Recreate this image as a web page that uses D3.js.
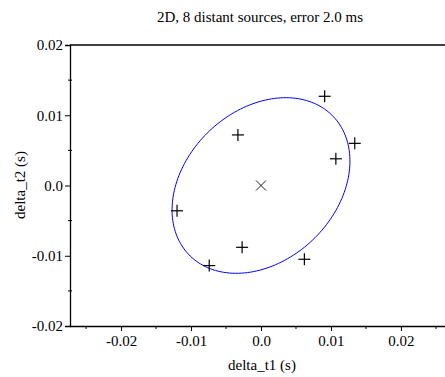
<!DOCTYPE html>
<html>
<head>
<meta charset="utf-8">
<script src="https://cdn.jsdelivr.net/npm/d3@7"></script>
<style>
  body { margin: 0; background: #fff; }
  text { font-family: "Liberation Serif", "Times New Roman", serif; fill: #000; }
</style>
</head>
<body>
<svg id="chart" width="445" height="377"></svg>
<script>
// sources (delta_t1, delta_t2 in s)
const sourceX = [0.0091, -0.0033, 0.0134, 0.0107, -0.0120, -0.0027, -0.0074, 0.0062];
const sourceY = [0.0127, 0.0072, 0.0060, 0.0038, -0.0036, -0.0088, -0.0114, -0.0105];
const centre = [0, 0];
// error ellipse as a 2x2 matrix [xx, yy, xy]
const ellipseXX = 1.616e-4, ellipseYY = 1.5625e-4, ellipseXY = 4.42e-5;

const xMajor = [-0.02, -0.01, 0, 0.01, 0.02];
const xMinor = [-0.025, -0.015, -0.005, 0.005, 0.015, 0.025];
const yMajor = [-0.02, -0.01, 0, 0.01, 0.02];
const yMinor = [-0.015, -0.005, 0.005, 0.015];
const fmt = d => d === 0 ? "0.0" : d.toFixed(2);

const x = d3.scaleLinear().domain([-0.0273, 0.0273]).range([70, 452]);
const y = d3.scaleLinear().domain([-0.02, 0.02]).range([326, 45]);

const svg = d3.select("#chart");

// ellipse outline from the matrix (eigen decomposition)
const m = (ellipseXX + ellipseYY) / 2;
const r = Math.sqrt(((ellipseXX - ellipseYY) / 2) ** 2 + ellipseXY ** 2);
const ang = 0.5 * Math.atan2(2 * ellipseXY, ellipseXX - ellipseYY);
const a = Math.sqrt(m + r), b = Math.sqrt(m - r);
const ell = d3.range(0, 361, 2).map(t => {
  const th = t * Math.PI / 180;
  const u = a * Math.cos(th), v = b * Math.sin(th);
  return [centre[0] + u * Math.cos(ang) - v * Math.sin(ang),
          centre[1] + u * Math.sin(ang) + v * Math.cos(ang)];
});
svg.append("path")
  .attr("d", d3.line().x(d => x(d[0])).y(d => y(d[1]))(ell))
  .attr("fill", "none").attr("stroke", "#0000ff").attr("stroke-width", 1);

// sources as +
const plus = svg.append("g").attr("stroke", "#000").attr("stroke-width", 1.2);
sourceX.forEach((sx, i) => {
  const px = x(sx), py = y(sourceY[i]);
  plus.append("line").attr("x1", px - 6).attr("x2", px + 6).attr("y1", py).attr("y2", py);
  plus.append("line").attr("x1", px).attr("x2", px).attr("y1", py - 6).attr("y2", py + 6);
});
// estimate as x
const cx = x(centre[0]), cy = y(centre[1]);
svg.append("path")
  .attr("d", `M${cx - 5},${cy - 5}L${cx + 5},${cy + 5}M${cx - 5},${cy + 5}L${cx + 5},${cy - 5}`)
  .attr("stroke", "#222").attr("stroke-width", 1);

// top frame line
svg.append("line").attr("x1", 70).attr("x2", 445).attr("y1", y(0.02)).attr("y2", y(0.02))
  .attr("stroke", "#000").attr("stroke-width", 1.3);

// left axis
const yAxis = svg.append("g").attr("transform", "translate(70,0)");
yAxis.call(d3.axisLeft(y).tickValues(yMajor).tickFormat(fmt).tickSize(5).tickPadding(2));
yAxis.attr("font-family", null).attr("font-size", null);
yAxis.select(".domain").attr("stroke-width", 1.3);
yAxis.selectAll("text").style("font-size", "15px");
yAxis.selectAll(".minor").data(yMinor).enter().append("line")
  .attr("x1", -2).attr("x2", 2).attr("y1", d => y(d)).attr("y2", d => y(d)).attr("stroke", "#000");

// bottom axis
const xAxis = svg.append("g").attr("transform", "translate(0,326)");
xAxis.call(d3.axisBottom(x).tickValues(xMajor).tickFormat(fmt).tickSize(5).tickPadding(4).tickSizeOuter(0));
xAxis.attr("font-family", null).attr("font-size", null);
xAxis.select(".domain").attr("stroke-width", 1.3);
xAxis.selectAll("text").style("font-size", "15px");
xAxis.selectAll(".minor").data(xMinor).enter().append("line")
  .attr("x1", d => x(d)).attr("x2", d => x(d)).attr("y1", 0).attr("y2", 3).attr("stroke", "#000");

svg.append("text").attr("x", 260).attr("y", 22).attr("text-anchor", "middle")
  .style("font-size", "15px").text("2D, 8 distant sources, error 2.0 ms");
svg.append("text").attr("x", 262).attr("y", 370).attr("text-anchor", "middle")
  .style("font-size", "15px").text("delta_t1 (s)");
svg.append("text").attr("transform", "translate(25,185) rotate(-90)").attr("text-anchor", "middle")
  .style("font-size", "15px").text("delta_t2 (s)");
</script>
</body>
</html>
